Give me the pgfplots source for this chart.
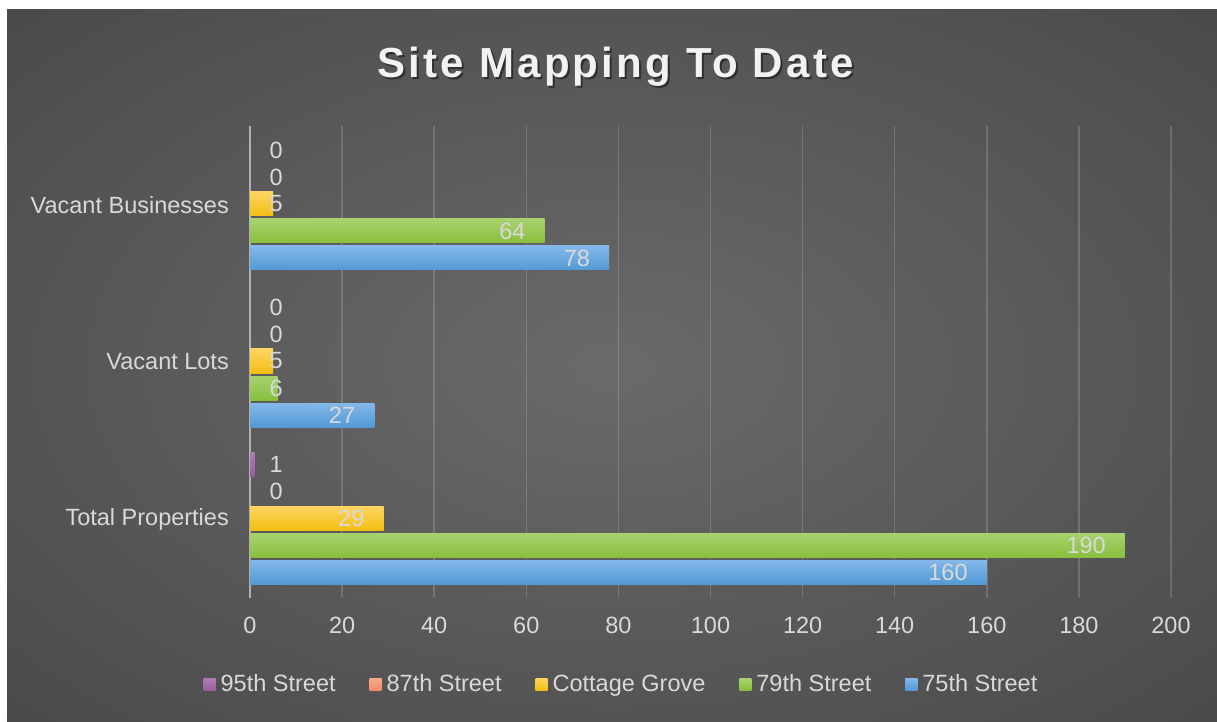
\documentclass[border=0pt]{standalone}
\usepackage{pgfplots}
\pgfplotsset{compat=1.18}
\usepackage{fontspec}
\setmainfont{Liberation Sans}
\definecolor{bgA}{HTML}{6A6A6A}
\definecolor{bgB}{HTML}{464646}
\definecolor{bgC}{HTML}{323232}
\definecolor{txt}{HTML}{D9D9D9}
\definecolor{blueT}{HTML}{84B8E9}
\definecolor{blueB}{HTML}{529AD6}
\definecolor{greenT}{HTML}{A8D26F}
\definecolor{greenB}{HTML}{89BF3D}
\definecolor{yelT}{HTML}{FFD562}
\definecolor{yelB}{HTML}{F3BE12}
\definecolor{salT}{HTML}{F9AA8C}
\definecolor{salB}{HTML}{F28C68}
\definecolor{purT}{HTML}{B27CB4}
\definecolor{purB}{HTML}{9A5F9E}
\definecolor{axisgray}{HTML}{B0B0B0}
\pgfdeclareradialshading{bgshade}{\pgfpoint{0bp}{0bp}}{color(0bp)=(bgA); color(40bp)=(bgB); color(50bp)=(bgC)}
\pgfplotsset{
  sP/.style={xbar, bar shift=55pt, draw=none, top color=purT, bottom color=purB,
    every node near coord/.append style={yshift=55pt}},
  sS/.style={xbar, bar shift=28pt, draw=none, top color=salT, bottom color=salB,
    every node near coord/.append style={yshift=28pt}},
  sY/.style={xbar, bar shift=1pt, draw=none, top color=yelT, bottom color=yelB,
    every node near coord/.append style={yshift=1pt}},
  sG/.style={xbar, bar shift=-26pt, draw=none, top color=greenT, bottom color=greenB,
    every node near coord/.append style={yshift=-26pt}},
  sB/.style={xbar, bar shift=-53pt, draw=none, top color=blueT, bottom color=blueB,
    every node near coord/.append style={yshift=-53pt}},
}
\begin{document}
\begin{tikzpicture}
\fill[white] (0pt,0pt) rectangle (1217pt,721pt);
\shade[shading=bgshade] (7pt,0pt) rectangle (1217pt,711pt);
% title
\node[anchor=base, text=black, opacity=0.45, font=\fontsize{42}{48}\selectfont\bfseries\addfontfeature{LetterSpace=7.8}] at (617.5pt,641pt) {Site Mapping To Date};
\node[anchor=base, text=white!95!black, font=\fontsize{42}{48}\selectfont\bfseries\addfontfeature{LetterSpace=7.8}] at (615.5pt,643pt) {Site Mapping To Date};
\begin{axis}[
  at={(250pt,123.5pt)}, anchor=south west,
  x=4.605pt, y=157pt,
  xmin=0, xmax=200, ymin=-0.5, ymax=2.5,
  xtick={0,20,...,200},
  ytick={0,1,2},
  yticklabels={Total Properties, Vacant Lots, Vacant Businesses},
  major tick length=0pt,
  /pgf/number format/assume math mode=true,
  font=\fontsize{23.5}{28}\selectfont,
  every tick label/.append style={text=txt, inner sep=0pt},
  xticklabel style={anchor=north, yshift=-19.5pt},
  yticklabel style={anchor=east, xshift=-21pt},
  separate axis lines,
  axis x line*=bottom, axis y line*=left,
  x axis line style={draw=none},
  y axis line style={draw=axisgray, line width=2pt},
  xmajorgrids,
  grid style={white, opacity=0.16, line width=1.5pt},
  bar width=24pt,
  point meta=rawx,
  visualization depends on={rawx \as \rawxv},
  nodes near coords,
  every node near coord/.append style={text=txt, inner sep=0pt, anchor=east,
     font=\fontsize{23.5}{28}\selectfont, xshift={max(-19,33-4.605*\rawxv)}},
  legend columns=5,
  legend style={draw=none, fill=none, at={(0.4023,-0.1837)}, anchor=center,
     text=txt, font=\fontsize{23.5}{28}\selectfont,
     nodes={inner sep=0pt},
     /tikz/every odd column/.append style={column sep=5pt},
     /tikz/every even column/.append style={column sep=34pt}},
  legend image code/.code={\path[#1, draw=none] (0pt,-6pt) rectangle (12pt,6pt);},
]
% 95th Street
\addplot[sP] coordinates {(1,0)};
\addlegendentry{95th Street}
\addplot[sP, forget plot] coordinates {(0,1)};
\addplot[sP, forget plot] coordinates {(0,2)};
% 87th Street
\addplot[sS] coordinates {(0,0)};
\addlegendentry{87th Street}
\addplot[sS, forget plot] coordinates {(0,1)};
\addplot[sS, forget plot] coordinates {(0,2)};
% Cottage Grove
\addplot[sY] coordinates {(29,0)};
\addlegendentry{Cottage Grove}
\addplot[sY, forget plot] coordinates {(5,1)};
\addplot[sY, forget plot] coordinates {(5,2)};
% 79th Street
\addplot[sG] coordinates {(190,0)};
\addlegendentry{79th Street}
\addplot[sG, forget plot] coordinates {(6,1)};
\addplot[sG, forget plot] coordinates {(64,2)};
% 75th Street
\addplot[sB] coordinates {(160,0)};
\addlegendentry{75th Street}
\addplot[sB, forget plot] coordinates {(27,1)};
\addplot[sB, forget plot] coordinates {(78,2)};
\end{axis}
\pgfresetboundingbox
\path (0pt,0pt) rectangle (1217pt,721pt);
\end{tikzpicture}
\end{document}
